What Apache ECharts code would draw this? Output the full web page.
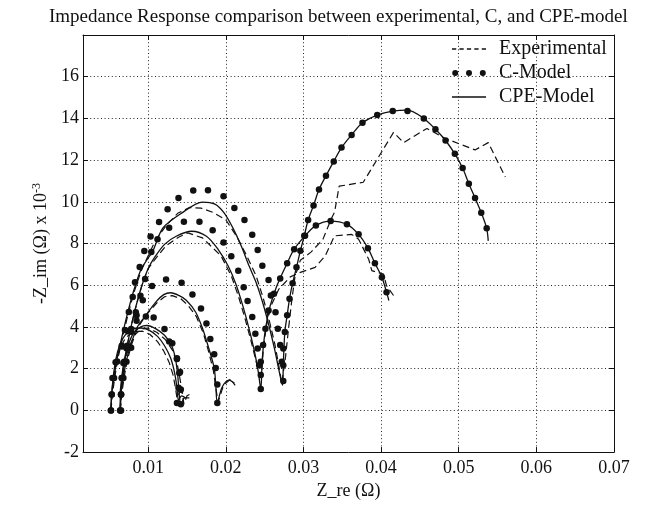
<!DOCTYPE html>
<html>
<head>
<meta charset="utf-8">
<script src="https://cdn.jsdelivr.net/npm/echarts@6/dist/echarts.min.js"></script>
<style>html,body{margin:0;padding:0;background:#fff}#c{width:646px;height:505px}</style>
</head>
<body>
<div id="c"></div>
<script>
// ---------- data (x = Z_re in ohm, y = -Z_im in ohm x 1e-3) ----------
const xTicks = [0.01, 0.02, 0.03, 0.04, 0.05, 0.06, 0.07];

// small arc A
const expSmallA = [[0.0052,0],[0.0053,0.8],[0.0055,1.6],[0.0059,2.4],[0.0064,3.0],[0.0071,3.5],[0.0081,3.75],[0.0092,3.8],[0.0102,3.65],[0.0112,3.3],[0.0120,2.85],[0.0127,2.3],[0.0132,1.7],[0.0135,1.1],[0.0137,0.6],[0.0141,0.9],[0.0146,0.8]];
const cpeSmallA = [[0.0052,0],[0.0053,0.8],[0.0055,1.6],[0.0058,2.4],[0.0063,3.1],[0.0070,3.6],[0.0080,3.9],[0.0091,3.95],[0.0101,3.85],[0.0112,3.55],[0.0121,3.1],[0.0129,2.5],[0.0134,1.8],[0.0137,1.1],[0.0139,0.5],[0.0143,0.7],[0.0148,0.6]];
const cSmallA = [[0.0052,0],[0.0053,0.76],[0.0056,1.55],[0.0060,2.35],[0.0066,3.1],[0.0074,3.8],[0.0085,4.3],[0.0097,4.5],[0.0107,4.45],[0.0121,3.9],[0.0131,3.22],[0.0137,2.47],[0.0140,1.79],[0.0142,1.0],[0.0142,0.29]];

// small arc B
const expSmallB = [[0.0064,0],[0.0065,0.8],[0.0067,1.6],[0.0070,2.4],[0.0075,3.0],[0.0082,3.6],[0.0091,3.9],[0.0099,3.95],[0.0111,3.75],[0.0122,3.4],[0.0131,2.9],[0.0137,2.3],[0.0141,1.5],[0.0144,0.8],[0.0146,0.3],[0.0150,0.7],[0.0155,0.8]];
const cpeSmallB = [[0.0064,0],[0.0064,0.8],[0.0066,1.6],[0.0069,2.4],[0.0074,3.1],[0.0081,3.7],[0.0090,4.0],[0.0098,4.07],[0.0110,3.91],[0.0121,3.6],[0.0130,3.12],[0.0135,2.49],[0.0138,1.69],[0.0140,0.74],[0.0142,0.3],[0.0147,0.6],[0.0153,0.6]];
const cSmallB = [[0.0064,0],[0.0065,0.76],[0.0068,1.55],[0.0072,2.33],[0.0078,3.0],[0.0127,3.3],[0.0137,2.5],[0.0141,1.84],[0.0139,1.08],[0.0137,0.36]];

// medium arc
const expMed = [[0.0064,0],[0.0066,0.8],[0.0069,1.6],[0.0073,2.4],[0.0079,3.2],[0.0087,4.0],[0.0098,4.6],[0.0111,5.15],[0.0121,5.45],[0.0131,5.5],[0.0142,5.35],[0.0151,5.05],[0.0162,4.5],[0.0171,3.7],[0.0178,2.8],[0.0184,1.9],[0.0187,1.1],[0.0190,0.4],[0.0197,1.2],[0.0206,1.5],[0.0212,1.2]];
const cpeMed = [[0.0064,0],[0.0065,0.8],[0.0068,1.6],[0.0072,2.4],[0.0078,3.2],[0.0086,4.0],[0.0097,4.56],[0.0110,5.2],[0.0120,5.55],[0.0129,5.64],[0.0140,5.5],[0.0149,5.28],[0.0161,4.72],[0.0170,3.93],[0.0178,2.98],[0.0185,2.03],[0.0187,1.24],[0.0189,0.36],[0.0195,1.1],[0.0204,1.45],[0.0211,1.3]];
const cMed = [[0.0065,0],[0.0065,0.76],[0.0066,1.55],[0.0068,2.27],[0.0072,2.98],[0.0078,3.77],[0.0085,4.56],[0.0093,5.28],[0.0105,5.96],[0.0123,6.28],[0.0143,6.12],[0.0157,5.56],[0.0168,4.88],[0.0175,4.17],[0.0180,3.42],[0.0185,2.69],[0.0187,2.03],[0.0189,1.24],[0.0189,0.36]];

// large group (two arcs)
const expL = [[0.0064,0],[0.0065,0.8],[0.0067,1.6],[0.0070,2.4],[0.0074,3.3],[0.0079,4.2],[0.0085,5.1],[0.0092,6.0],[0.0100,6.8],[0.0110,7.3],[0.0123,7.9],[0.0139,8.3],[0.0151,8.51],[0.0170,8.27],[0.0194,7.40],[0.0207,6.45],[0.0216,5.5],[0.0224,4.5],[0.0232,3.4],[0.0238,2.5],[0.0243,1.7],[0.0246,1.7],[0.0248,2.8],[0.0252,4.0],[0.0258,5.0],[0.0268,5.8],[0.0283,6.4],[0.0296,6.62],[0.0315,6.86],[0.0328,7.41],[0.0340,8.37],[0.0362,8.44],[0.0371,8.21],[0.0384,7.25],[0.0388,6.70],[0.0403,6.54],[0.0407,5.98],[0.0416,5.51]];
const cpeL = [[0.0064,0],[0.0065,0.8],[0.0067,1.6],[0.0070,2.4],[0.0074,3.3],[0.0079,4.2],[0.0085,5.1],[0.0092,6.0],[0.0100,6.8],[0.0108,7.32],[0.0121,7.96],[0.0136,8.35],[0.0156,8.59],[0.0175,8.35],[0.0190,7.72],[0.0203,6.92],[0.0213,6.05],[0.0222,5.0],[0.0230,3.9],[0.0237,2.8],[0.0242,1.8],[0.0245,1.0],[0.0247,2.5],[0.0251,3.9],[0.0257,5.0],[0.0266,6.0],[0.0279,7.06],[0.0288,7.73],[0.0302,8.37],[0.0316,8.87],[0.0335,9.08],[0.0356,8.92],[0.0371,8.44],[0.0383,7.78],[0.0392,7.06],[0.0401,6.38],[0.0407,5.67],[0.0410,5.27]];
const cL = [[0.0064,0],[0.0065,0.76],[0.0066,1.55],[0.0069,2.33],[0.0073,3.1],[0.0078,3.9],[0.0084,4.7],[0.0090,5.5],[0.0096,6.3],[0.0104,7.6],[0.0112,8.21],[0.0127,8.76],[0.0146,9.05],[0.0166,9.05],[0.0183,8.64],[0.0197,8.05],[0.0207,7.39],[0.0216,6.70],[0.0223,5.9],[0.0228,5.24],[0.0234,4.48],[0.0238,3.68],[0.0241,2.97],[0.0243,2.17],[0.0245,1.02],[0.0245,1.70],[0.0245,2.33],[0.0248,3.13],[0.0251,3.92],[0.0255,4.79],[0.0262,5.59],[0.0270,6.33],[0.0279,7.06],[0.0288,7.73],[0.0302,8.37],[0.0316,8.87],[0.0335,9.08],[0.0356,8.92],[0.0371,8.44],[0.0383,7.78],[0.0392,7.06],[0.0401,6.38],[0.0407,5.67]];

// extra-large group (two arcs)
const expXL = [[0.0052,0],[0.0054,0.8],[0.0057,1.6],[0.0061,2.5],[0.0067,3.5],[0.0074,4.6],[0.0082,5.7],[0.0091,6.7],[0.0101,7.5],[0.0110,8.2],[0.0124,8.9],[0.0138,9.45],[0.0153,9.73],[0.0168,9.70],[0.0183,9.5],[0.0200,9.14],[0.0215,8.27],[0.0226,7.48],[0.0239,6.45],[0.0248,5.4],[0.0256,4.3],[0.0263,3.2],[0.0268,2.2],[0.0272,1.3],[0.0274,1.3],[0.0277,2.6],[0.0281,4.0],[0.0285,5.3],[0.0289,6.4],[0.0296,7.2],[0.0310,7.6],[0.0325,8.2],[0.0336,9.2],[0.0340,9.5],[0.0346,10.75],[0.0377,10.94],[0.0416,13.33],[0.0429,12.84],[0.0459,13.52],[0.0482,13.05],[0.0521,12.49],[0.0538,12.84],[0.0560,11.19]];
const cpeXL = [[0.0052,0],[0.0053,0.8],[0.0056,1.6],[0.0060,2.5],[0.0066,3.5],[0.0073,4.6],[0.0081,5.7],[0.0090,6.7],[0.0098,7.2],[0.0106,7.64],[0.0119,8.75],[0.0143,9.46],[0.0170,9.99],[0.0186,9.89],[0.0198,9.46],[0.0209,8.75],[0.0220,7.87],[0.0230,6.92],[0.0239,6.13],[0.0248,5.1],[0.0256,4.0],[0.0263,2.9],[0.0268,2.0],[0.0273,1.2],[0.0274,2.2],[0.0276,3.76],[0.0279,4.56],[0.0282,5.35],[0.0286,6.10],[0.0291,6.86],[0.0296,7.65],[0.0301,8.37],[0.0306,9.13],[0.0313,9.83],[0.0320,10.59],[0.0329,11.25],[0.0339,11.94],[0.0349,12.60],[0.0362,13.21],[0.0376,13.79],[0.0395,14.16],[0.0415,14.35],[0.0434,14.4],[0.0455,14.0],[0.0470,13.48],[0.0483,12.94],[0.0495,12.30],[0.0505,11.62],[0.0513,10.87],[0.0521,10.19],[0.0529,9.48],[0.0536,8.73],[0.0538,8.13]];
const cXL = [[0.0052,0],[0.0053,0.76],[0.0054,1.55],[0.0058,2.31],[0.0066,3.06],[0.0070,3.85],[0.0075,4.72],[0.0080,5.44],[0.0083,6.15],[0.0089,6.88],[0.0095,7.64],[0.0103,8.34],[0.0114,9.03],[0.0125,9.64],[0.0139,10.19],[0.0158,10.54],[0.0177,10.55],[0.0197,10.27],[0.0211,9.71],[0.0224,9.13],[0.0234,8.42],[0.0241,7.69],[0.0247,6.94],[0.0255,6.25],[0.0258,5.51],[0.0264,4.71],[0.0267,3.92],[0.0270,3.13],[0.0272,2.33],[0.0274,1.41],[0.0274,2.17],[0.0274,2.97],[0.0276,3.76],[0.0279,4.56],[0.0282,5.35],[0.0286,6.10],[0.0291,6.86],[0.0296,7.65],[0.0301,8.37],[0.0306,9.13],[0.0313,9.83],[0.0320,10.59],[0.0329,11.25],[0.0339,11.94],[0.0349,12.60],[0.0362,13.21],[0.0376,13.79],[0.0395,14.16],[0.0415,14.35],[0.0434,14.35],[0.0455,14.0],[0.0470,13.48],[0.0483,12.94],[0.0495,12.30],[0.0505,11.62],[0.0513,10.87],[0.0521,10.19],[0.0529,9.48],[0.0536,8.73]];

const expSets = [expSmallA, expSmallB, expMed, expL, expXL];
const cpeSets = [cpeSmallA, cpeSmallB, cpeMed, cpeL, cpeXL];
const cSets = [cSmallA, cSmallB, cMed, cL, cXL];

// ---------- chart ----------
const FONT = 'Liberation Serif';
const INK = '#111';
const series = [];
expSets.forEach(d => series.push({
  name: 'Experimental', type: 'line', data: d, symbol: 'none', smooth: false,
  lineStyle: { color: INK, width: 1.2, type: [7, 4] }, itemStyle: { color: INK }, z: 3
}));
cpeSets.forEach(d => series.push({
  name: 'CPE-Model', type: 'line', data: d, symbol: 'none', smooth: 0.3,
  lineStyle: { color: INK, width: 1.3, type: 'solid' }, itemStyle: { color: INK }, z: 3
}));
cSets.forEach(d => series.push({
  name: 'C-Model', type: 'scatter', data: d, symbol: 'circle', symbolSize: 6.5,
  itemStyle: { color: INK, opacity: 1 }, z: 4
}));

const dashIcon = 'path://M0,0h4v1.2h-4z M7,0h4v1.2h-4z M14,0h4v1.2h-4z M21,0h4v1.2h-4z M28,0h4v1.2h-4z';
const dotsIcon = 'path://M0,2.5a2.5,2.5 0 1,0 5,0a2.5,2.5 0 1,0 -5,0z M11.5,2.5a2.5,2.5 0 1,0 5,0a2.5,2.5 0 1,0 -5,0z M23,2.5a2.5,2.5 0 1,0 5,0a2.5,2.5 0 1,0 -5,0z';
const lineIcon = 'path://M0,0h34v1.4h-34z';

const gridLine = { show: true, lineStyle: { color: '#222', width: 1, type: [1, 2.6] } };

const option = {
  animation: false,
  backgroundColor: '#fff',
  title: {
    text: 'Impedance Response comparison between experimental, C, and CPE-model',
    left: 44, top: 3,
    textStyle: { fontFamily: FONT, fontSize: 19, fontWeight: 'normal', color: INK }
  },
  legend: {
    orient: 'vertical', left: 447, top: 34, itemGap: 4,
    itemWidth: 34, itemHeight: 6,
    textStyle: { fontFamily: FONT, fontSize: 20, color: INK, padding: [0, 0, 0, 8] },
    data: [
      { name: 'Experimental', icon: dashIcon, itemStyle: { color: INK } },
      { name: 'C-Model', icon: dotsIcon, itemStyle: { color: INK, opacity: 1 } },
      { name: 'CPE-Model', icon: lineIcon, itemStyle: { color: INK } }
    ]
  },
  grid: { left: 83, right: 32, top: 35, bottom: 50, show: false },
  xAxis: [{
    type: 'value', min: 0.0016, max: 0.07, position: 'bottom',
    name: 'Z_re (Ω)', nameLocation: 'middle', nameGap: 27,
    nameTextStyle: { fontFamily: FONT, fontSize: 18, color: INK },
    axisLine: { show: true, onZero: false, lineStyle: { color: INK, width: 1 } },
    axisTick: { show: true, inside: true, length: 5, customValues: xTicks, lineStyle: { color: INK } },
    axisLabel: { customValues: xTicks, fontFamily: FONT, fontSize: 18, color: INK, margin: 7,
      formatter: v => v.toFixed(2) },
    splitLine: gridLine
  }, {
    type: 'value', min: 0.0016, max: 0.07, position: 'top',
    axisLine: { show: true, onZero: false, lineStyle: { color: INK, width: 1 } },
    axisTick: { show: true, inside: true, length: 5, customValues: xTicks, lineStyle: { color: INK } },
    axisLabel: { show: false }, splitLine: { show: false }
  }],
  yAxis: [{
    type: 'value', min: -2, max: 18, interval: 2, position: 'left',
    name: '-Z_im (Ω) x 10{sup|-3}', nameLocation: 'middle', nameGap: 31,
    nameTextStyle: { fontFamily: FONT, fontSize: 18, color: INK,
      rich: { sup: { fontFamily: FONT, fontSize: 12, color: INK, verticalAlign: 'top', padding: [0, 0, 9, 0] } } },
    axisLine: { show: true, onZero: false, lineStyle: { color: INK, width: 1 } },
    axisTick: { show: true, inside: true, length: 5, lineStyle: { color: INK } },
    axisLabel: { fontFamily: FONT, fontSize: 18, color: INK, margin: 4, showMaxLabel: false },
    splitLine: gridLine
  }, {
    type: 'value', min: -2, max: 18, interval: 2, position: 'right',
    axisLine: { show: true, onZero: false, lineStyle: { color: INK, width: 1 } },
    axisTick: { show: true, inside: true, length: 5, lineStyle: { color: INK } },
    axisLabel: { show: false }, splitLine: { show: false }
  }],
  series: series
};

const chart = echarts.init(document.getElementById('c'), null, { renderer: 'canvas' });
chart.setOption(option);
</script>
</body>
</html>
